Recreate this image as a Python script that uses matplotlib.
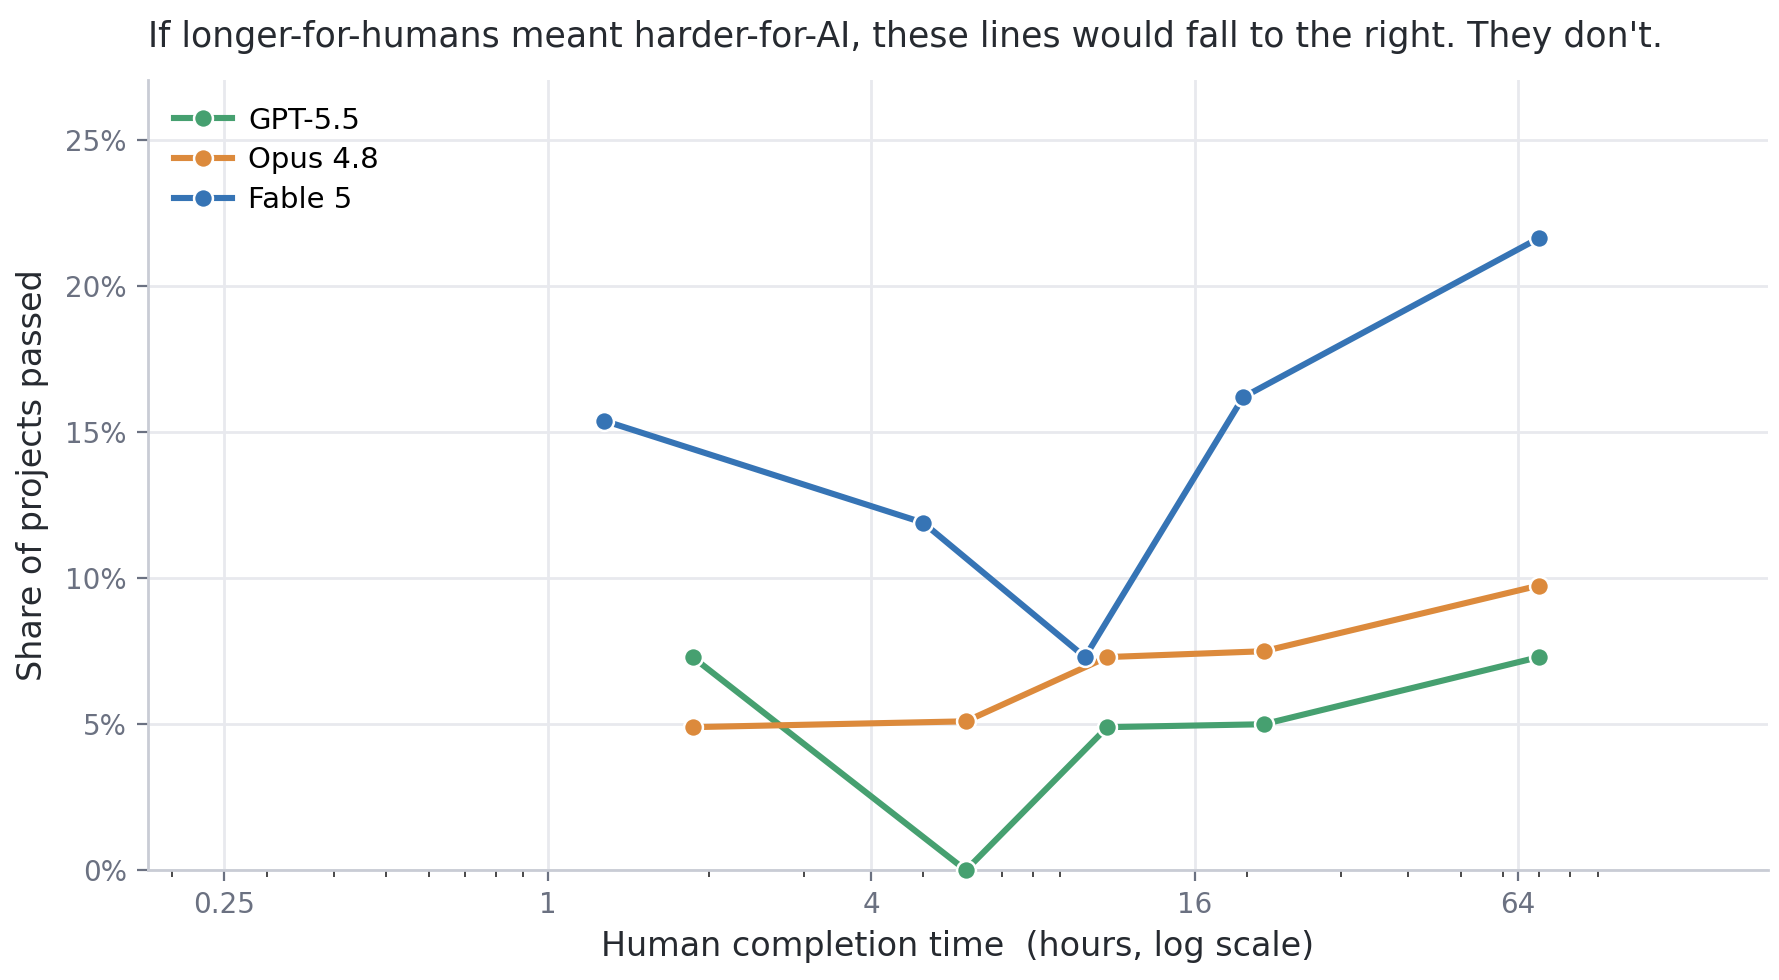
import matplotlib
matplotlib.use("Agg")
import numpy as np
from matplotlib import pyplot as plt
from matplotlib import ticker

plt.rcParams["font.family"] = ["DejaVu Sans"]

# data (hours, share passed in %)
gpt_hours = [1.86, 6.0, 11.0, 21.5, 70.0]
gpt_pass = [7.3, 0.0, 4.9, 5.0, 7.3]
opus_hours = [1.86, 6.0, 11.0, 21.5, 70.0]
opus_pass = [4.9, 5.1, 7.3, 7.5, 9.75]
fable_hours = [1.27, 5.0, 10.0, 19.7, 70.0]
fable_pass = [15.4, 11.9, 7.3, 16.2, 21.65]

model_names = ["GPT-5.5", "Opus 4.8", "Fable 5"]
model_colors = ["#46a070", "#dc8a3c", "#3674b5"]
x_ticks = [0.25, 1, 4, 16, 64]
x_tick_labels = ["0.25", "1", "4", "16", "64"]
y_ticks = [0, 5, 10, 15, 20, 25]

fig = plt.figure(figsize=(1779 / 200, 980 / 200), dpi=200)
ax = fig.add_axes([0.083, 0.112, 0.911, 0.806])

series = [(gpt_hours, gpt_pass), (opus_hours, opus_pass), (fable_hours, fable_pass)]
for (xs, ys), name, col in zip(series, model_names, model_colors):
    ax.plot(xs, ys, color=col, lw=2.2, marker="o", ms=6.8,
            mfc=col, mec="white", mew=0.9, label=name, clip_on=False, zorder=3)

ax.set_xscale("log")
ax.set_xlim(0.18, 187)
ax.set_ylim(0, 27.05)
ax.xaxis.set_major_locator(ticker.FixedLocator(x_ticks))
ax.xaxis.set_major_formatter(ticker.FixedFormatter(x_tick_labels))
ax.xaxis.set_minor_locator(ticker.LogLocator(base=10, subs=np.arange(2, 10)))
ax.xaxis.set_minor_formatter(ticker.NullFormatter())
ax.yaxis.set_major_locator(ticker.FixedLocator(y_ticks))
ax.yaxis.set_major_formatter(ticker.FuncFormatter(lambda v, p: "%d%%" % v))

grid_col = "#e8e9ee"
ax.grid(True, which="major", color=grid_col, lw=1.0, zorder=0)
ax.set_axisbelow(True)
for s in ["top", "right"]:
    ax.spines[s].set_visible(False)
for s in ["left", "bottom"]:
    ax.spines[s].set_color("#c9ccd5")
    ax.spines[s].set_linewidth(1.0)

tick_col = "#6b7181"
ax.tick_params(axis="both", which="major", labelsize=10, labelcolor=tick_col,
               color=tick_col, length=4, width=0.8)
ax.tick_params(axis="x", which="minor", color="#2a2a2a", length=2.5, width=0.6)

text_col = "#262a30"
ax.set_xlabel("Human completion time  (hours, log scale)", fontsize=12, color=text_col, labelpad=4)
ax.set_ylabel("Share of projects passed", fontsize=12, color=text_col, labelpad=6)
ax.set_title("If longer-for-humans meant harder-for-AI, these lines would fall to the right. They don't.",
             fontsize=12.5, color=text_col, loc="left", pad=12)

leg = ax.legend(loc="upper left", frameon=False, fontsize=10.5, handlelength=2.0,
                handletextpad=0.55, borderaxespad=0.5, labelspacing=0.4)

fig.savefig("out.png", dpi=200)
